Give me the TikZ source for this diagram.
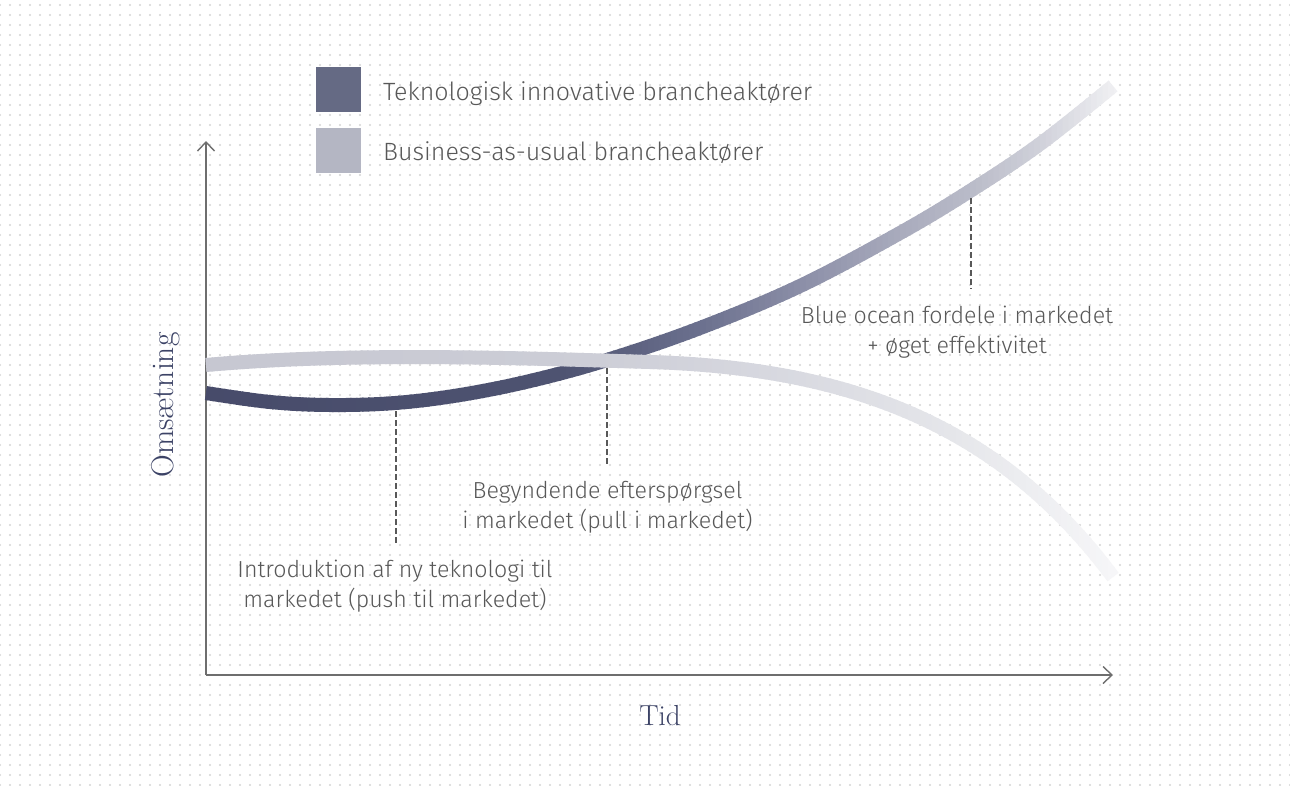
\documentclass[tikz,border=0pt]{standalone}
\usepackage{fontspec}
\newfontfamily\lblfont{Fira Sans Light}
\usetikzlibrary{arrows.meta,patterns.meta}
\definecolor{axisc}{HTML}{6E6E6E}
\definecolor{txtc}{HTML}{585858}
\definecolor{navy}{HTML}{3C4366}
\definecolor{dotc}{HTML}{D4D4D4}
\definecolor{legdark}{HTML}{656A84}
\definecolor{leglight}{HTML}{B4B6C3}
\definecolor{D0}{HTML}{474B6A}
\definecolor{D1}{HTML}{4E5371}
\definecolor{D2}{HTML}{6B708E}
\definecolor{D3}{HTML}{8B8EA7}
\definecolor{D4}{HTML}{A9ABBD}
\definecolor{D5}{HTML}{B9BBC8}
\definecolor{D6}{HTML}{D0D1DA}
\definecolor{D7}{HTML}{F4F4F6}
\definecolor{L0}{HTML}{C6C7D1}
\definecolor{L1}{HTML}{CDCED7}
\definecolor{L2}{HTML}{D9DAE1}
\definecolor{L3}{HTML}{E5E6EA}
\definecolor{L4}{HTML}{F7F7F9}
\def\darkcurve{plot[smooth,tension=0.6] coordinates {(206,393) (270,402) (330,405) (395,403) (460,395) (530,381) (607,360) (700,328) (800,286) (900,233) (970,191) (1040,144) (1113,86)}}
\def\lightcurve{(206,365) .. controls (350,352) and (520,358) .. (650,362) .. controls (850,368) and (1000,425) .. (1113,577)}
\tikzset{
  axisline/.style={draw=axisc,line width=1.4pt,-{Straight Barb[length=9pt,width=17pt,line width=1.4pt]}},
  guide/.style={draw=txtc,line width=1.1pt,dash pattern=on 5.5pt off 3.5pt},
  lbl/.style={font=\lblfont\fontsize{23.2}{30}\selectfont,text=txtc,inner sep=0pt,align=center},
  leglbl/.style={font=\lblfont\fontsize{25}{30}\selectfont,text=txtc,inner sep=0pt},
  axlbl/.style={text=navy,inner sep=0pt},
  legbox/.style={minimum size=45pt,inner sep=0pt,draw=none},
  band/.style={line width=14pt,line cap=butt,line join=round}
}
\begin{document}
\begin{tikzpicture}[x=1pt,y=-1pt]
\useasboundingbox (0,0) rectangle (1290,785);
\fill[white] (0,0) rectangle (1290,785);
\fill[pattern={Dots[distance=10pt,radius=1.1pt]},pattern color=dotc] (0,0) rectangle (1290,785);

% legend
\node[legbox,fill=legdark] (lg1) at (338.5,89.5) {};
\node[legbox,fill=leglight] (lg2) at (338.5,150.5) {};
\node[leglbl,anchor=base west] (lt1) at (383,100) {Teknologisk innovative brancheaktører};
\node[leglbl,anchor=base west] (lt2) at (383,160) {Business-as-usual brancheaktører};

% axes
\coordinate (O) at (206,675);
\coordinate (Ytop) at (206,141);
\coordinate (Xend) at (1113,675);
\draw[axisline] (O) -- (Ytop);
\draw[axisline] (O) -- (Xend);
\node[axlbl,rotate=90,font=\fontsize{31.5}{36}\selectfont] (ylab) at (166,405) {Omsætning};
\node[axlbl,font=\fontsize{29}{34}\selectfont] (xlab) at (660,716) {Tid};

% dark curve (gradient by strips)
\foreach \xa/\xb/\ca/\cb in {200/560/D0/D1,560/700/D1/D2,700/800/D2/D3,800/900/D3/D4,900/970/D4/D5,970/1040/D5/D6,1040/1125/D6/D7}{
  \pgfmathtruncatemacro\N{max(1,ceil((\xb-\xa)/6))}
  \pgfmathtruncatemacro\Nm{\N-1}
  \pgfmathsetmacro\dx{(\xb-\xa)/\N}
  \foreach \k in {0,...,\Nm}{
    \pgfmathsetmacro\xo{\xa+\dx*\k}
    \pgfmathsetmacro\xe{\xa+\dx*(\k+1)+1.5}
    \pgfmathsetmacro\pp{100*(1-(\k+0.5)/\N)}
    \colorlet{sc}{\ca!\pp!\cb}
    \begin{scope}
      \clip (\xo,0) rectangle (\xe,785);
      \draw[band,sc] \darkcurve;
    \end{scope}
  }
}
% light curve
\foreach \xa/\xb/\ca/\cb in {200/600/L0/L1,600/800/L1/L2,800/950/L2/L3,950/1125/L3/L4}{
  \pgfmathtruncatemacro\N{max(1,ceil((\xb-\xa)/6))}
  \pgfmathtruncatemacro\Nm{\N-1}
  \pgfmathsetmacro\dx{(\xb-\xa)/\N}
  \foreach \k in {0,...,\Nm}{
    \pgfmathsetmacro\xo{\xa+\dx*\k}
    \pgfmathsetmacro\xe{\xa+\dx*(\k+1)+1.5}
    \pgfmathsetmacro\pp{100*(1-(\k+0.5)/\N)}
    \colorlet{sc}{\ca!\pp!\cb}
    \begin{scope}
      \clip (\xo,0) rectangle (\xe,785);
      \draw[band,sc] \lightcurve;
    \end{scope}
  }
}

% annotations
\coordinate (p1) at (396,411);
\coordinate (q1) at (396,545);
\coordinate (p2) at (607,368);
\coordinate (q2) at (607,466);
\coordinate (p3) at (971,198);
\coordinate (q3) at (971,289);
\draw[guide] (p1) -- (q1);
\draw[guide] (p2) -- (q2);
\draw[guide] (p3) -- (q3);
\node[lbl] (a1) at (395,586) {Introduktion af ny teknologi til\\markedet (push til markedet)};
\node[lbl] (a2) at (607.5,507) {Begyndende efterspørgsel\\i markedet (pull i markedet)};
\node[lbl] (a3) at (957,332) {Blue ocean fordele i markedet\\+ øget effektivitet};
\end{tikzpicture}
\end{document}
